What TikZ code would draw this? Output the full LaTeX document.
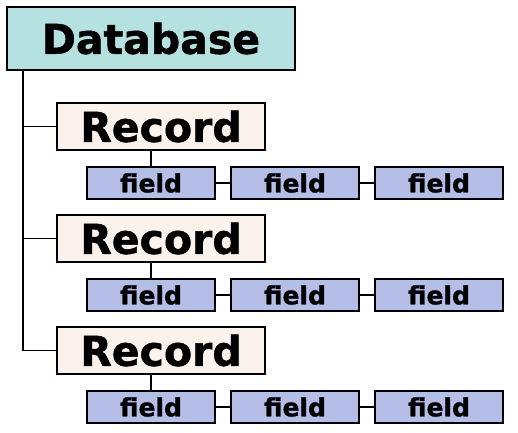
\documentclass[tikz,border=0pt]{standalone}
\usepackage{fontspec}
\setmainfont[BoldFeatures={FakeBold=1.2}]{DejaVu Sans}
\definecolor{dbfill}{HTML}{B5E1E1}
\definecolor{recfill}{HTML}{FCF2EC}
\definecolor{fldfill}{HTML}{B4BEE6}
\begin{document}
\begin{tikzpicture}[x=1pt,y=-1pt,
  box/.style={draw=black,line width=1.6pt,rectangle,inner sep=0pt,font=\bfseries},
  dbbox/.style={box,fill=dbfill,minimum width=288pt,minimum height=63pt,font=\fontsize{41}{41}\selectfont\bfseries},
  recbox/.style={box,fill=recfill,minimum width=208pt,minimum height=47pt,font=\fontsize{41}{41}\selectfont\bfseries},
  fldbox/.style={box,fill=fldfill,minimum width=128pt,minimum height=32pt,font=\fontsize{25}{25}\selectfont\bfseries},
  link/.style={line width=1.6pt}]
\useasboundingbox[fill=white] (0,0) rectangle (518,432);
\node[dbbox] (db) at (151,38.5) {Database};
\coordinate (sp) at (23,70);
\foreach \i/\y in {1/126.5,2/238.5,3/350.5}{
  \pgfmathsetmacro{\fy}{\y+56.5}
  \node[recbox] (r\i) at (161,\y) {Record};
  \node[fldbox] (f\i a) at (151,\fy) {field};
  \node[fldbox] (f\i b) at (295,\fy) {field};
  \node[fldbox] (f\i c) at (439,\fy) {field};
  \draw[link] (r\i.west) -- (r\i.west -| sp);
  \draw[link] (f\i a.north) -- (f\i a.north |- r\i.south);
  \draw[link] (f\i a.east) -- (f\i b.west);
  \draw[link] (f\i b.east) -- (f\i c.west);
}
\draw[link] (db.south -| sp) -- (r3.west -| sp);
\end{tikzpicture}
\end{document}
